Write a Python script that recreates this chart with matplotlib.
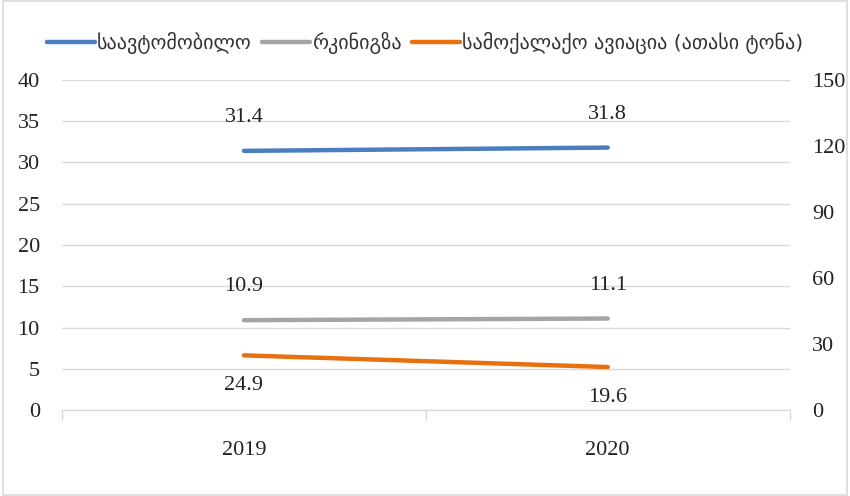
import matplotlib.pyplot as plt
from matplotlib.patches import Rectangle

years = ["2019", "2020"]
road = [31.4, 31.8]
rail = [10.9, 11.1]
aviation = [24.9, 19.6]

road_name = "საავტომობილო"
rail_name = "რკინიგზა"
avia_name = "სამოქალაქო ავიაცია (ათასი ტონა)"

serif = ["Liberation Serif", "DejaVu Serif"]
grid_c = "#D9D9D9"

fig = plt.figure(figsize=(8.5, 4.96), dpi=100)
ax = fig.add_axes([0.073, 0.173, 0.856, 0.666])
ax2 = ax.twinx()

x = list(range(len(years)))
l1, = ax.plot(x, road, color="#4A7EBF", lw=3.2, solid_capstyle="round", zorder=3)
l2, = ax.plot(x, rail, color="#A5A5A5", lw=3.2, solid_capstyle="round", zorder=3)
l3, = ax2.plot(x, aviation, color="#E8700E", lw=3.2, solid_capstyle="round", zorder=3)

ax.set_xlim(-0.5, 1.5)
ax.set_ylim(0, 40)
ax2.set_ylim(0, 150)
ax.set_yticks(range(0, 41, 5))
ax2.set_yticks(range(0, 151, 30))
ax.yaxis.grid(True, color=grid_c, lw=1)
ax.set_axisbelow(True)

for a in (ax, ax2):
    for s in ("top", "left", "right"):
        a.spines[s].set_visible(False)
    a.spines["bottom"].set_color(grid_c)
    a.tick_params(axis="y", length=0, labelsize=16, labelcolor="#222222")
ax.tick_params(axis="y", pad=16)
ax2.tick_params(axis="y", pad=16)

ax.set_xticks(x)
ax.set_xticklabels(years)
ax.tick_params(axis="x", length=0, labelsize=16, pad=22, labelcolor="#222222")
ax.set_xticks([-0.5, 0.5, 1.5], minor=True)
ax.tick_params(axis="x", which="minor", length=7, color=grid_c, width=1)

for lab in ax.get_yticklabels() + ax2.get_yticklabels() + ax.get_xticklabels():
    lab.set_family(serif)

# data labels
for xi, v in zip(x, road):
    ax.annotate(f"{v}", (xi, v), xytext=(0, 24), textcoords="offset points",
                ha="center", va="center", fontsize=16, family=serif, color="#222222")
for xi, v in zip(x, rail):
    ax.annotate(f"{v}", (xi, v), xytext=(0, 24), textcoords="offset points",
                ha="center", va="center", fontsize=16, family=serif, color="#222222")
for xi, v in zip(x, aviation):
    ax2.annotate(f"{v}", (xi, v), xytext=(0, -22), textcoords="offset points",
                 ha="center", va="center", fontsize=16, family=serif, color="#222222")

fig.legend([l1, l2, l3], [road_name, rail_name, avia_name], loc="center",
           bbox_to_anchor=(0.5, 0.913), ncol=3, frameon=False,
           prop={"family": "DejaVu Sans", "size": 14.5}, handlelength=2.4,
           handletextpad=0.1, columnspacing=0.5, labelcolor="#333333")

fig.patches.append(Rectangle((0.004, 0.002), 0.992, 0.996, transform=fig.transFigure,
                             fill=False, edgecolor=grid_c, lw=1.2))

fig.savefig("out.png")
